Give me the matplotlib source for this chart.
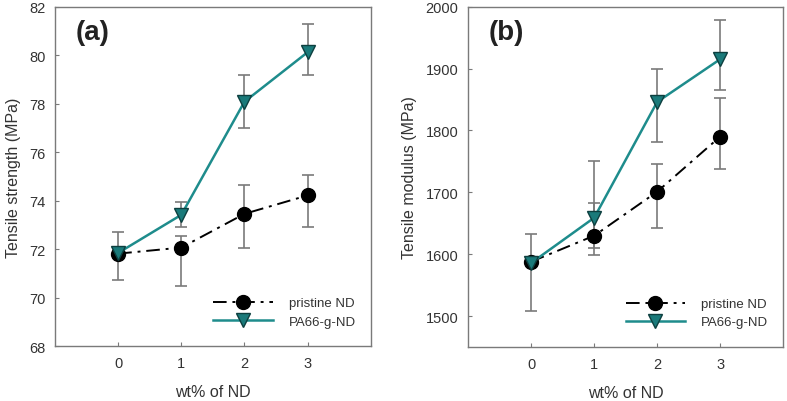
import matplotlib
matplotlib.use("Agg")
import matplotlib.pyplot as plt

plt.rcParams['font.family'] = ['Liberation Sans', 'DejaVu Sans']

wt = [0, 1, 2, 3]

# (a) tensile strength
ts_pristine = [71.82, 72.07, 73.46, 74.22]
ts_pristine_lo = [70.75, 70.50, 72.05, 72.90]
ts_pristine_hi = [72.72, 72.55, 74.64, 75.07]
ts_graft = [71.85, 73.42, 78.08, 80.12]
ts_graft_lo = [71.85, 72.90, 76.98, 79.20]
ts_graft_hi = [71.85, 73.94, 79.18, 81.28]

# (b) tensile modulus
tm_pristine = [1588, 1630, 1701, 1790]
tm_pristine_lo = [1508, 1599, 1643, 1738]
tm_pristine_hi = [1633, 1683, 1746, 1852]
tm_graft = [1586, 1659, 1846, 1915]
tm_graft_lo = [1586, 1610, 1781, 1866]
tm_graft_hi = [1586, 1750, 1899, 1978]

teal = '#1e8c8c'
gray = '#7a7a7a'
txt = '#333333'


def panel(ax, y1, lo1, hi1, y2, lo2, hi2, ylim, yticks, ylabel, tag):
    err1 = [[a - b for a, b in zip(y1, lo1)], [b - a for a, b in zip(y1, hi1)]]
    err2 = [[a - b for a, b in zip(y2, lo2)], [b - a for a, b in zip(y2, hi2)]]
    ax.errorbar(wt, y1, yerr=err1, fmt='none', ecolor=gray, elinewidth=1.2,
                capsize=4, capthick=1.2, zorder=2)
    ax.errorbar(wt, y2, yerr=err2, fmt='none', ecolor=gray, elinewidth=1.2,
                capsize=4, capthick=1.2, zorder=2)
    ax.plot(wt, y1, color='black', linestyle='-.', linewidth=1.4, marker='o',
            markersize=10, markerfacecolor='black', markeredgecolor='black',
            dashes=(7, 3, 1.5, 3), label='pristine ND', zorder=3)
    ax.plot(wt, y2, color=teal, linestyle='-', linewidth=1.8, marker='v',
            markersize=10, markerfacecolor='#1a7a7a', markeredgecolor='#0d3f3f',
            label='PA66-g-ND', zorder=4)
    ax.set_xlim(-1, 4)
    ax.set_ylim(*ylim)
    ax.set_xticks(wt)
    ax.set_yticks(yticks)
    ax.tick_params(direction='in', length=3, color=gray, labelcolor=txt,
                   labelsize=10.5, pad=7)
    for s in ax.spines.values():
        s.set_color(gray)
        s.set_linewidth(1.0)
    ax.set_xlabel('wt% of ND', fontsize=11.5, color=txt, labelpad=10)
    ax.set_ylabel(ylabel, fontsize=11.5, color=txt, labelpad=6)
    ax.text(0.065, 0.925, tag, transform=ax.transAxes, fontsize=20,
            fontweight='bold', color='#222222', va='center')
    leg = ax.legend(loc='lower right', bbox_to_anchor=(0.99, 0.02), frameon=False,
                    fontsize=9.5, handlelength=4.5, numpoints=1,
                    labelspacing=0.45, handletextpad=1.2)
    for t in leg.get_texts():
        t.set_color(txt)


fig = plt.figure(figsize=(7.87, 4.02), dpi=100)
ax1 = fig.add_axes([0.070, 0.136, 0.401, 0.845])
ax2 = fig.add_axes([0.595, 0.134, 0.400, 0.847])

panel(ax1, ts_pristine, ts_pristine_lo, ts_pristine_hi,
      ts_graft, ts_graft_lo, ts_graft_hi,
      (68, 82), [68, 70, 72, 74, 76, 78, 80, 82], 'Tensile strength (MPa)', '(a)')
panel(ax2, tm_pristine, tm_pristine_lo, tm_pristine_hi,
      tm_graft, tm_graft_lo, tm_graft_hi,
      (1450, 2000), [1500, 1600, 1700, 1800, 1900, 2000], 'Tensile modulus (MPa)', '(b)')

fig.savefig('out.png', dpi=100)
